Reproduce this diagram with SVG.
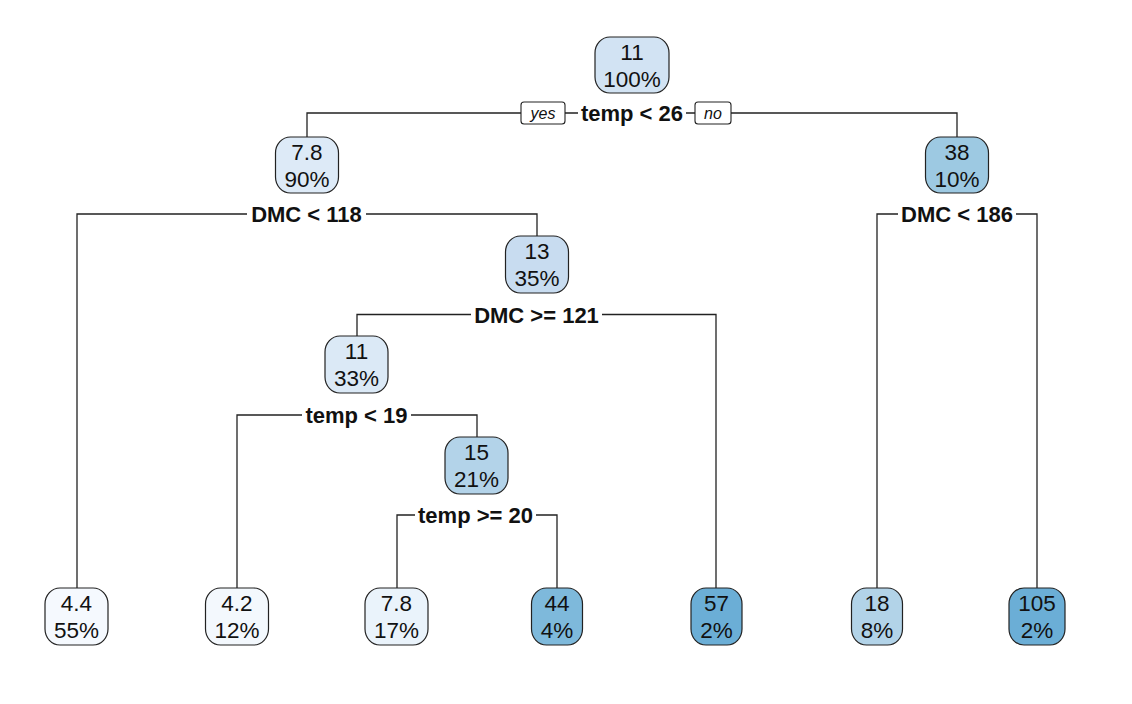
<svg xmlns="http://www.w3.org/2000/svg" width="1132" height="704" viewBox="0 0 1132 704">
<style>
.bg{fill:#ffffff}
.node rect{stroke:#222;stroke-width:1.2}
.nt{font-family:"Liberation Sans",Arial,sans-serif;font-size:22.5px;fill:#111;text-anchor:middle}
.st{font-family:"Liberation Sans",Arial,sans-serif;font-size:22px;font-weight:bold;fill:#111;text-anchor:middle}
.yn{font-family:"Liberation Sans",Arial,sans-serif;font-size:16px;font-style:italic;fill:#111;text-anchor:middle}
.yb{fill:#fff;stroke:#222;stroke-width:1.1}
#connectors path{fill:none;stroke:#222;stroke-width:1.3}
</style>
<rect class="bg" x="0" y="0" width="1132" height="704"/>
<g id="connectors">
  <path d="M307,137 V113 H521 M565,113 H578 M686,113 H695 M731,113 H957 V137"/>
  <path d="M77,588 V214 H247 M366,214 H537 V236"/>
  <path d="M877,588 V214 H898 M1016,214 H1037 V588"/>
  <path d="M357,336 V314.5 H471 M602,314.5 H716 V588"/>
  <path d="M237,588 V415 H302 M411,415 H477 V437"/>
  <path d="M397,588 V515 H415 M536,515 H557 V588"/>
</g>
<g id="split-labels">
  <g id="yes-label"><rect class="yb" x="521" y="102" width="44" height="22" rx="3"/><text class="yn" x="543" y="118.5">yes</text></g>
  <g id="no-label"><rect class="yb" x="695" y="102" width="36" height="22" rx="3"/><text class="yn" x="713" y="118.5">no</text></g>
  <text class="st" x="632" y="121">temp &lt; 26</text>
  <text class="st" x="306.5" y="222">DMC &lt; 118</text>
  <text class="st" x="957" y="222">DMC &lt; 186</text>
  <text class="st" x="536.5" y="322.5">DMC &gt;= 121</text>
  <text class="st" x="356.5" y="423">temp &lt; 19</text>
  <text class="st" x="475.5" y="523">temp &gt;= 20</text>
</g>
<g id="node-root" class="node"><rect x="595" y="37" width="74" height="56" rx="15" ry="16" fill="#D2E3F3"/><text class="nt" x="632" y="60">11</text><text class="nt" x="632" y="87">100%</text></g>
<g id="node-2" class="node"><rect x="275.5" y="137" width="63" height="56" rx="15" ry="16" fill="#DDEAF7"/><text class="nt" x="307" y="160">7.8</text><text class="nt" x="307" y="187">90%</text></g>
<g id="node-3" class="node"><rect x="925.5" y="137" width="63" height="56" rx="15" ry="16" fill="#9DC9E2"/><text class="nt" x="957" y="160">38</text><text class="nt" x="957" y="187">10%</text></g>
<g id="node-5" class="node"><rect x="505.5" y="236" width="63" height="57" rx="15" ry="16" fill="#C8DCF0"/><text class="nt" x="537" y="259">13</text><text class="nt" x="537" y="286">35%</text></g>
<g id="node-10" class="node"><rect x="325" y="336" width="63" height="57" rx="15" ry="16" fill="#DBE9F6"/><text class="nt" x="356.5" y="359">11</text><text class="nt" x="356.5" y="386">33%</text></g>
<g id="node-21" class="node"><rect x="445" y="437" width="63" height="57" rx="15" ry="16" fill="#B3D3E9"/><text class="nt" x="476.5" y="460">15</text><text class="nt" x="476.5" y="487">21%</text></g>
<g id="leaf-4" class="node"><rect x="45" y="588" width="63" height="57" rx="15" ry="16" fill="#F5F9FE"/><text class="nt" x="76.5" y="611">4.4</text><text class="nt" x="76.5" y="638">55%</text></g>
<g id="leaf-20" class="node"><rect x="205.5" y="588" width="63" height="57" rx="15" ry="16" fill="#F3F8FD"/><text class="nt" x="237" y="611">4.2</text><text class="nt" x="237" y="638">12%</text></g>
<g id="leaf-42" class="node"><rect x="365" y="588" width="63" height="57" rx="15" ry="16" fill="#EAF3FB"/><text class="nt" x="396.5" y="611">7.8</text><text class="nt" x="396.5" y="638">17%</text></g>
<g id="leaf-43" class="node"><rect x="531.5" y="588" width="51" height="57" rx="15" ry="16" fill="#7EB9DB"/><text class="nt" x="557" y="611">44</text><text class="nt" x="557" y="638">4%</text></g>
<g id="leaf-11" class="node"><rect x="691" y="588" width="51" height="57" rx="15" ry="16" fill="#6BAED6"/><text class="nt" x="716.5" y="611">57</text><text class="nt" x="716.5" y="638">2%</text></g>
<g id="leaf-6" class="node"><rect x="851.5" y="588" width="51" height="57" rx="15" ry="16" fill="#B2D3E8"/><text class="nt" x="877" y="611">18</text><text class="nt" x="877" y="638">8%</text></g>
<g id="leaf-7" class="node"><rect x="1009" y="588" width="56" height="57" rx="15" ry="16" fill="#6BAED6"/><text class="nt" x="1037" y="611">105</text><text class="nt" x="1037" y="638">2%</text></g>
</svg>
